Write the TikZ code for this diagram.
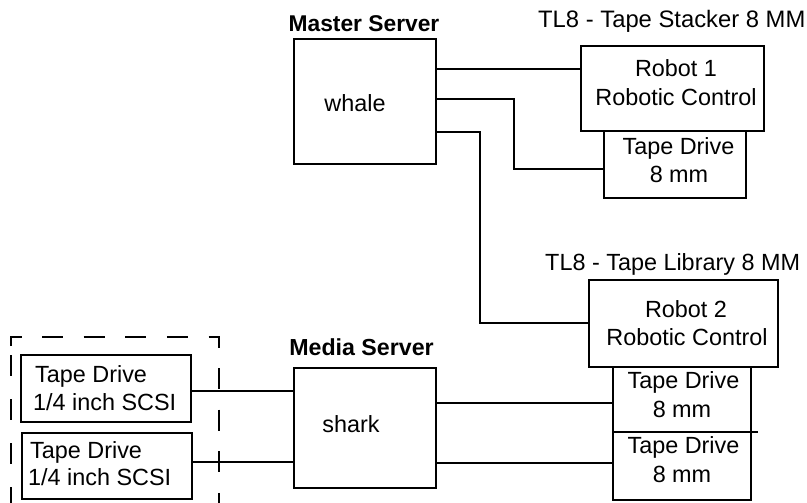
\documentclass[tikz,border=0pt]{standalone}
\usepackage{fontspec}
\setmainfont{Liberation Sans}
\begin{document}
\begin{tikzpicture}[x=1pt,y=-1pt,
  box/.style={draw, line width=2.4pt, inner sep=0pt, outer sep=0pt},
  wire/.style={line width=2.3pt},
  lbl/.style={inner sep=0pt, anchor=base, font=\fontsize{23.4}{28}\selectfont},
  lbll/.style={lbl, anchor=base west},
  ttl/.style={inner sep=0pt, anchor=base, font=\fontsize{22.8}{28}\selectfont\bfseries},
  dashbox/.style={line width=2.3pt, dash pattern=on 21pt off 20.6pt}
]
\useasboundingbox[fill=white] (0,0) rectangle (807,503);

% boxes
\node[box, minimum width=142pt, minimum height=125pt] (whale) at (365,101.5) {};
\node[box, minimum width=183pt, minimum height=85pt] (robot1) at (672.5,88.5) {};
\node[box, minimum width=142pt, minimum height=67pt] (tdS) at (675,164.5) {};
\node[box, minimum width=189pt, minimum height=87pt] (robot2) at (683.5,323.5) {};
\node[box, minimum width=138pt, minimum height=65pt] (tdA) at (682,399.5) {};
\node[box, minimum width=138pt, minimum height=68pt] (tdB) at (682,466) {};
\node[box, minimum width=142pt, minimum height=120pt] (shark) at (365,428) {};
\node[box, minimum width=170pt, minimum height=67pt] (sd1) at (106,388.5) {};
\node[box, minimum width=170pt, minimum height=66pt] (sd2) at (107,466) {};
\draw[line width=2.3pt] (tdB.north east) -- ++(7,0);

% dashed enclosure
\coordinate (dtl) at (11,337);
\coordinate (dtr) at (219,337);
\draw[dashbox, dash phase=1.5pt] (11,346) -- (dtl) -- (dtr) -- (219,503);
\draw[dashbox, dash pattern=on 21pt off 23pt] (11,355) -- (11,503);

% titles
\node[ttl] (mst) at (364,31.5) {Master Server};
\node[ttl, font=\fontsize{23.2}{28}\selectfont\bfseries] (mdt) at (361.5,355) {Media Server};
\node[lbl, anchor=base west, font=\fontsize{23.8}{28}\selectfont] (tl1) at (538,28) {TL8 - Tape Stacker 8 MM};
\node[lbl, anchor=base west] (tl2) at (545,270) {TL8 - Tape Library 8 MM};

% box texts
\node[lbl] (wt) at (355,112) {whale};
\node[lbl] (st) at (351,432) {shark};
\node[lbl] (r1a) at (676,77) {Robot 1};
\node[lbl] (r1b) at (676,106) {Robotic Control};
\node[lbl] (t1a) at (678.5,154.5) {Tape Drive};
\node[lbl] (t1b) at (679,182.5) {8 mm};
\node[lbl] (r2a) at (686,317) {Robot 2};
\node[lbl] (r2b) at (687,345) {Robotic Control};
\node[lbl] (taa) at (683.5,388.5) {Tape Drive};
\node[lbl] (tab) at (682,417) {8 mm};
\node[lbl] (tba) at (683.5,453) {Tape Drive};
\node[lbl] (tbb) at (682,482) {8 mm};
\node[lbll] (s1a) at (35,382) {Tape Drive};
\node[lbll] (s1b) at (33,410) {1/4 inch SCSI};
\node[lbll] (s2a) at (30,458) {Tape Drive};
\node[lbll] (s2b) at (28,485) {1/4 inch SCSI};

% connectors
\draw[wire] (whale.east |- 0,69) -- (robot1.west |- 0,69);
\draw[wire] (whale.east |- 0,99) -| (514,169) -- (tdS.west |- 0,169);
\draw[wire] (whale.east |- 0,132) -| (480,323) -- (robot2.west |- 0,323);
\draw[wire] (sd1.east |- 0,391) -- (shark.west |- 0,391);
\draw[wire] (sd2.east |- 0,462) -- (shark.west |- 0,462);
\draw[wire] (shark.east |- 0,403) -- (tdA.west |- 0,403);
\draw[wire] (shark.east |- 0,463) -- (tdB.west |- 0,463);
\end{tikzpicture}
\end{document}
